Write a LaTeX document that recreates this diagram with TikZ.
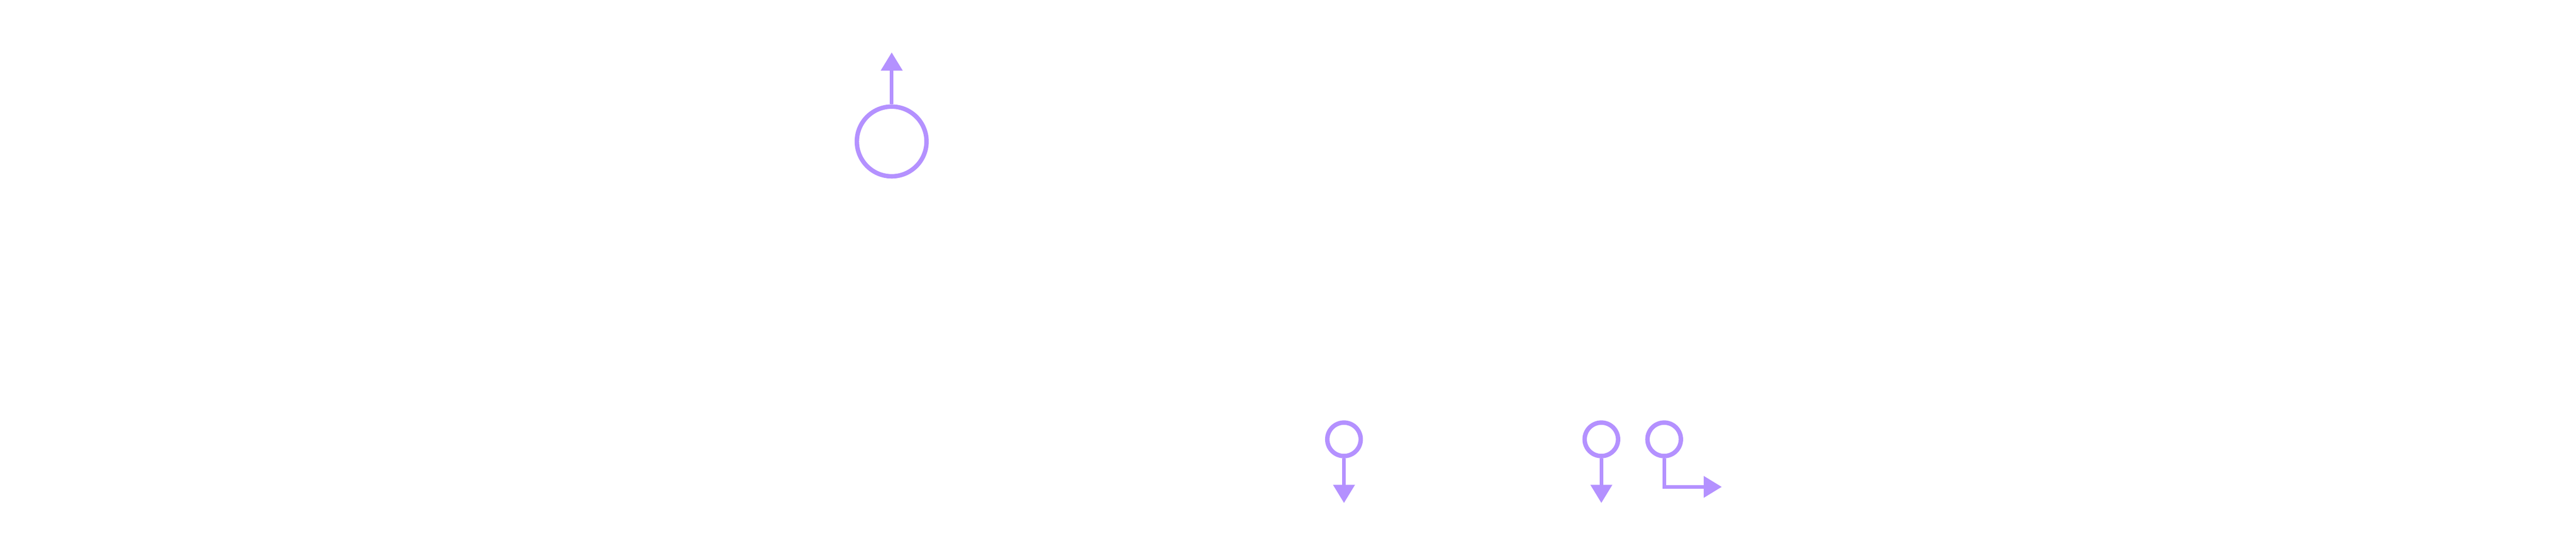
\documentclass[tikz,border=0pt]{standalone}
\usetikzlibrary{arrows.meta}
\definecolor{lav}{RGB}{180,145,255}
\begin{document}
\begin{tikzpicture}
\useasboundingbox (0,0) rectangle (63.96,13.54);
\tikzset{
  ring/.style={circle, draw=lav, line width=0.11cm, inner sep=0pt, fill=white},
  link/.style={draw=lav, line width=0.09cm, -{Triangle[length=0.45cm,width=0.52cm]}}
}
\node[ring, minimum size=1.73cm] (big) at (22.14,10.03) {};
\coordinate (bigend) at (22.14,12.24);
\draw[link] (big.north) -- (bigend);

\node[ring, minimum size=0.83cm] (s1) at (33.37,2.64) {};
\coordinate (s1end) at (33.37,1.06);
\draw[link] (s1.south) -- (s1end);

\node[ring, minimum size=0.83cm] (s2) at (39.76,2.64) {};
\coordinate (s2end) at (39.76,1.06);
\draw[link] (s2.south) -- (s2end);

\node[ring, minimum size=0.83cm] (s3) at (41.32,2.64) {};
\coordinate (s3end) at (42.75,1.46);
\draw[link] (s3.south) |- (s3end);
\end{tikzpicture}
\end{document}
